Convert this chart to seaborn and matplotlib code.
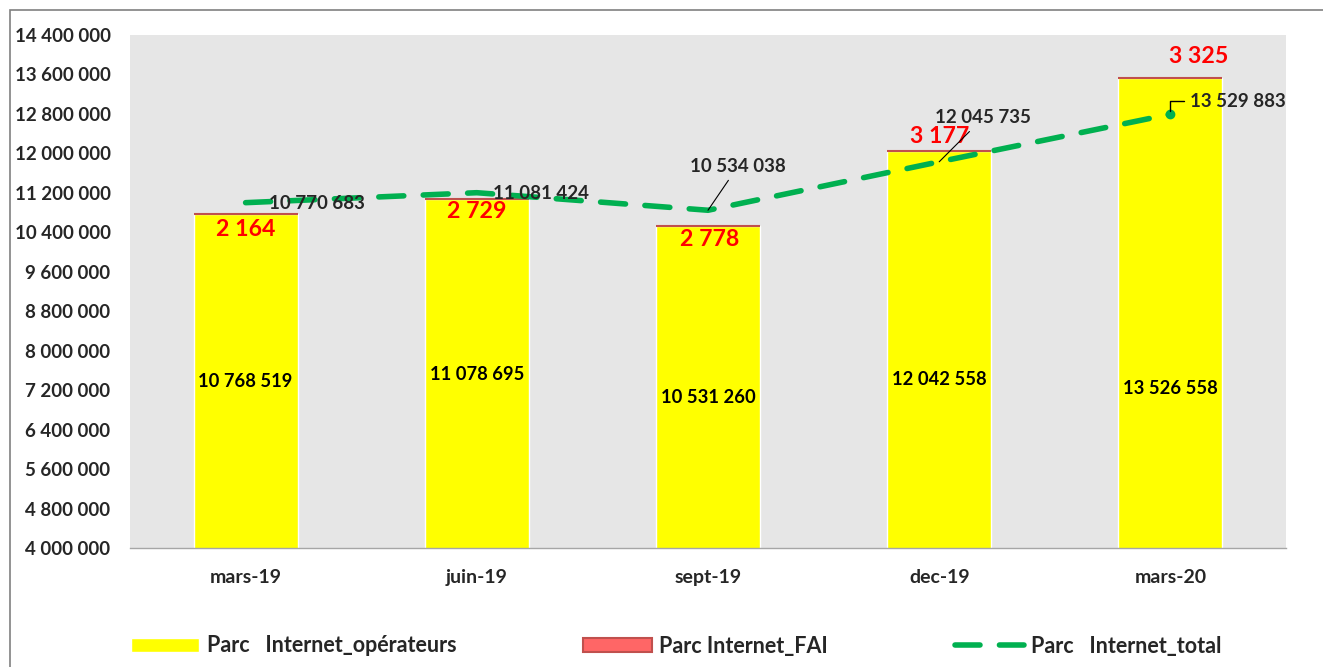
import numpy as np
import pandas as pd
import matplotlib
matplotlib.use("Agg")
import matplotlib.pyplot as plt
import seaborn as sns
from matplotlib.patches import Rectangle
from matplotlib.ticker import FuncFormatter

periodes = ["mars-19", "juin-19", "sept-19", "dec-19", "mars-20"]
parc_operateurs = [10768519, 11078695, 10531260, 12042558, 13526558]
parc_fai = [2164, 2729, 2778, 3177, 3325]
parc_total = [10770683, 11081424, 10534038, 12045735, 13529883]

# positions des etiquettes
y_etiq_oper = [7379000, 7521000, 7055000, 7420000, 7237000]
decal_fai = [(0, -15), (0, -13), (2, -14), (0, 15), (28, 21)]
decal_total = [(71, -1), (64, -1), (30, 44), (44, 44), (20, 13)]

def fmt(v):
    return f"{int(v):,}".replace(",", " ")

sns.set_style("white")
plt.rcParams['font.family'] = ['Lato', 'DejaVu Sans']
plt.rcParams['font.weight'] = 'bold'

datos = pd.DataFrame({"periode": periodes, "operateurs": parc_operateurs,
                      "fai": parc_fai, "total": parc_total})

fig = plt.figure(figsize=(13.23, 6.67), dpi=100)
ax = fig.add_axes([130 / 1323, 119 / 667, 1156 / 1323, 513 / 667])
ax.set_facecolor("#E6E6E6")

sns.barplot(data=datos, x="periode", y="operateurs", color="#FFFF00",
            width=0.45, saturation=1, ax=ax, label="Parc   Internet_opérateurs")
sns.barplot(data=datos, x="periode", y="fai", bottom=datos["operateurs"].values,
            color="#FF6666", edgecolor="#C0504D", linewidth=1.5, width=0.45,
            saturation=1, ax=ax, label="Parc Internet_FAI")
if ax.get_legend() is not None:
    ax.get_legend().remove()

ax.set_ylim(4000000, 14400000)
ax.set_yticks(np.arange(4000000, 14400001, 800000))
ax.yaxis.set_major_formatter(FuncFormatter(lambda v, p: fmt(v)))
ax.set_xlim(-0.5, 4.5)
ax.set_xlabel("")
ax.set_ylabel("")
ax.tick_params(axis="y", length=0, labelsize=13.5, pad=14)
ax.tick_params(axis="x", length=0, labelsize=14, pad=15)
for lab in ax.get_xticklabels() + ax.get_yticklabels():
    lab.set_fontweight("bold")
for s in ["top", "right", "left"]:
    ax.spines[s].set_visible(False)
ax.spines["bottom"].set_color("#A6A6A6")
ax.spines["bottom"].set_linewidth(1)

for i, v in enumerate(parc_operateurs):
    ax.text(i, y_etiq_oper[i], fmt(v), ha="center", va="center",
            fontsize=13.2, fontweight="bold", color="black")
for i, v in enumerate(parc_fai):
    ax.annotate(fmt(v), xy=(i, parc_total[i]), xytext=decal_fai[i],
                textcoords="offset pixels", ha="center", va="center",
                fontsize=16.7, fontweight="bold", color="#FF0000")

ax2 = ax.twinx()
ax2.set_ylim(0, 16000000)
ax2.axis("off")
ligne, = ax2.plot(range(len(periodes)), parc_total, color="#00B050", lw=4,
                  dashes=(4.5, 3.5), dash_capstyle="round",
                  label="Parc   Internet_total")
ax2.plot([len(periodes) - 1], [parc_total[-1]], "o", color="#00B050", markersize=6)
for i, v in enumerate(parc_total):
    dx, dy = decal_total[i]
    if i == 4:
        ax2.annotate(fmt(v), xy=(i, v), xytext=(dx, dy), textcoords="offset pixels",
                     ha="left", va="center", fontsize=13.5, fontweight="bold",
                     arrowprops=dict(arrowstyle="-", color="black", lw=1,
                                     connectionstyle="angle,angleA=0,angleB=90,rad=0"))
    elif i in (2, 3):
        ax2.annotate(fmt(v), xy=(i, v), xytext=(dx, dy), textcoords="offset pixels",
                     ha="center", va="center", fontsize=13.5, fontweight="bold",
                     arrowprops=dict(arrowstyle="-", color="black", lw=0.8,
                                     shrinkA=2, shrinkB=0))
    else:
        ax2.annotate(fmt(v), xy=(i, v), xytext=(dx, dy), textcoords="offset pixels",
                     ha="center", va="center", fontsize=13.5, fontweight="bold")

h1, l1 = ax.get_legend_handles_labels()
leg = fig.legend(h1 + [ligne], l1 + [ligne.get_label()], loc="center",
                 bbox_to_anchor=(676 / 1323, 21 / 667), ncol=3, frameon=False,
                 fontsize=15.5, handlelength=3.2, handleheight=0.65,
                 columnspacing=5.9, handletextpad=0.33)
for t in leg.get_texts():
    t.set_fontweight("bold")

fig.patches.append(Rectangle((10 / 1323, -0.05), 1.2, 1 - 10 / 667 + 0.05,
                             transform=fig.transFigure, fill=False,
                             edgecolor="#808080", lw=1.2))

fig.savefig("out.png", dpi=100)
